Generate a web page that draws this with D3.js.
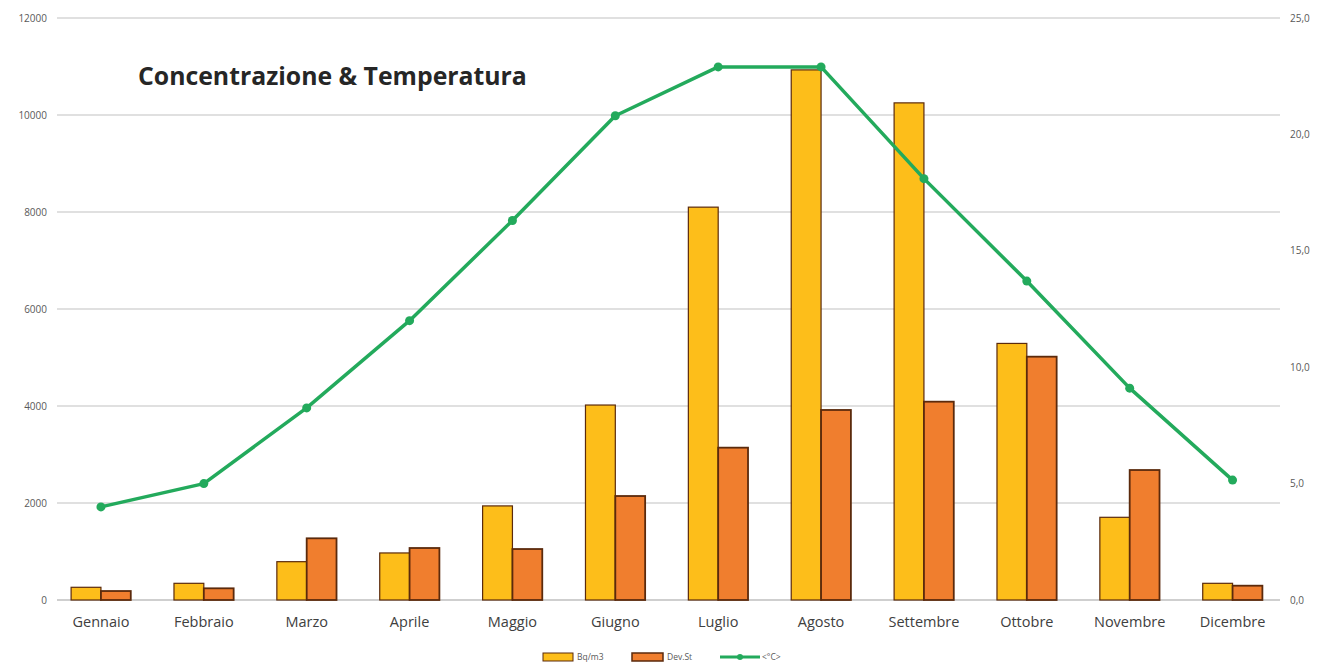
<!DOCTYPE html>
<html>
<head>
<meta charset="utf-8">
<script src="https://cdn.jsdelivr.net/npm/d3@7"></script>
<style>
  html, body { margin: 0; padding: 0; background: #fff; }
  svg { display: block; font-family: "Open Sans", "Noto Sans", sans-serif; }
</style>
</head>
<body>
<svg id="chart" width="1327" height="665"></svg>
<script>
// Monthly radon concentration, its standard deviation and mean temperature
const months = ["Gennaio", "Febbraio", "Marzo", "Aprile", "Maggio", "Giugno",
                "Luglio", "Agosto", "Settembre", "Ottobre", "Novembre", "Dicembre"];
const concentration = [262, 344, 790, 970, 1940, 4020, 8100, 10930, 10250, 5290, 1705, 344];
const deviation = [185, 241, 1272, 1072, 1051, 2144, 3141, 3918, 4089, 5017, 2680, 295];
const temperature = [4.0, 5.0, 8.25, 12.0, 16.3, 20.8, 22.9, 22.9, 18.1, 13.7, 9.1, 5.15];
const leftTicks = [0, 2000, 4000, 6000, 8000, 10000, 12000];
const rightTicks = [0, 5, 10, 15, 20, 25];
const seriesNames = ["Bq/m3", "Dev.St", "<°C>"];

const svg = d3.select("#chart");
const plotTop = 18, plotBottom = 600, gridLeft = 57, gridRight = 1280;

const x = d3.scaleBand().domain(months).range([49.5, 1284]).paddingInner(0.42).paddingOuter(0.21);
const xSub = d3.scaleBand().domain([0, 1]).range([0, x.bandwidth()]);
const yLeft = d3.scaleLinear().domain([0, 12000]).range([plotBottom, plotTop]);
const yRight = d3.scaleLinear().domain([0, 25]).range([plotBottom, plotTop]);

const colors = { conc: "#FDBE1A", dev: "#F07E2E", stroke: "#5b2a0c", temp: "#23AA5C" };

// horizontal gridlines from the left axis
svg.append("g")
  .selectAll("line").data(leftTicks).join("line")
  .attr("x1", gridLeft).attr("x2", gridRight)
  .attr("y1", d => yLeft(d)).attr("y2", d => yLeft(d))
  .attr("stroke", d => d === 0 ? "#bfbfbf" : "#d6d6d6").attr("stroke-width", 1.3);

// left axis labels
svg.append("g")
  .selectAll("text").data(leftTicks).join("text")
  .attr("x", 47).attr("y", d => yLeft(d)).attr("dy", "0.35em")
  .attr("text-anchor", "end").attr("font-size", 10).attr("fill", "#595959")
  .text(d => d);

// right axis labels
const fmtRight = d => d3.format(".1f")(d).replace(".", ",");
svg.append("g")
  .selectAll("text").data(rightTicks).join("text")
  .attr("x", 1290).attr("y", d => yRight(d)).attr("dy", "0.35em")
  .attr("text-anchor", "start").attr("font-size", 10).attr("fill", "#595959")
  .text(fmtRight);

// grouped bars
const groups = svg.append("g")
  .selectAll("g").data(months).join("g")
  .attr("transform", d => `translate(${x(d)},0)`);

groups.append("rect")
  .attr("x", xSub(0)).attr("width", xSub.bandwidth())
  .attr("y", (d, i) => yLeft(concentration[i]))
  .attr("height", (d, i) => plotBottom - yLeft(concentration[i]))
  .attr("fill", colors.conc).attr("stroke", colors.stroke).attr("stroke-width", 1.2);

groups.append("rect")
  .attr("x", xSub(1)).attr("width", xSub.bandwidth())
  .attr("y", (d, i) => yLeft(deviation[i]))
  .attr("height", (d, i) => plotBottom - yLeft(deviation[i]))
  .attr("fill", colors.dev).attr("stroke", colors.stroke).attr("stroke-width", 1.8);

// temperature line on the secondary axis
const cx = (d, i) => x(months[i]) + x.bandwidth() / 2;
const line = d3.line().x((d, i) => cx(d, i)).y(d => yRight(d));
svg.append("path").datum(temperature)
  .attr("d", line).attr("fill", "none")
  .attr("stroke", colors.temp).attr("stroke-width", 3.5).attr("stroke-linejoin", "round");
svg.append("g")
  .selectAll("circle").data(temperature).join("circle")
  .attr("cx", cx).attr("cy", d => yRight(d)).attr("r", 4.5)
  .attr("fill", colors.temp);

// month labels
svg.append("g")
  .selectAll("text").data(months).join("text")
  .attr("x", d => x(d) + x.bandwidth() / 2).attr("y", 622).attr("dy", "0.35em")
  .attr("text-anchor", "middle").attr("font-size", 14.5).attr("fill", "#404040")
  .text(d => d);

// title
svg.append("text")
  .attr("x", 138).attr("y", 76).attr("dy", "0.35em")
  .attr("font-size", 24.8).attr("font-weight", "bold").attr("fill", "#262626")
  .text("Concentrazione & Temperatura");

// legend
const legend = svg.append("g").attr("transform", "translate(0,657)");
legend.append("rect").attr("x", 543).attr("y", -4).attr("width", 30).attr("height", 8)
  .attr("fill", colors.conc).attr("stroke", colors.stroke).attr("stroke-width", 1);
legend.append("text").attr("x", 577).attr("y", 0).attr("dy", "0.35em")
  .attr("font-size", 8.5).attr("fill", "#595959").text(seriesNames[0]);
legend.append("rect").attr("x", 632).attr("y", -4).attr("width", 31).attr("height", 8)
  .attr("fill", colors.dev).attr("stroke", colors.stroke).attr("stroke-width", 1.5);
legend.append("text").attr("x", 667).attr("y", 0).attr("dy", "0.35em")
  .attr("font-size", 8.5).attr("fill", "#595959").text(seriesNames[1]);
legend.append("line").attr("x1", 720).attr("x2", 760).attr("y1", 0).attr("y2", 0)
  .attr("stroke", colors.temp).attr("stroke-width", 3);
legend.append("circle").attr("cx", 740).attr("cy", 0).attr("r", 3).attr("fill", colors.temp);
legend.append("text").attr("x", 762).attr("y", 0).attr("dy", "0.35em")
  .attr("font-size", 8.5).attr("fill", "#595959").text(seriesNames[2]);
</script>
</body>
</html>
